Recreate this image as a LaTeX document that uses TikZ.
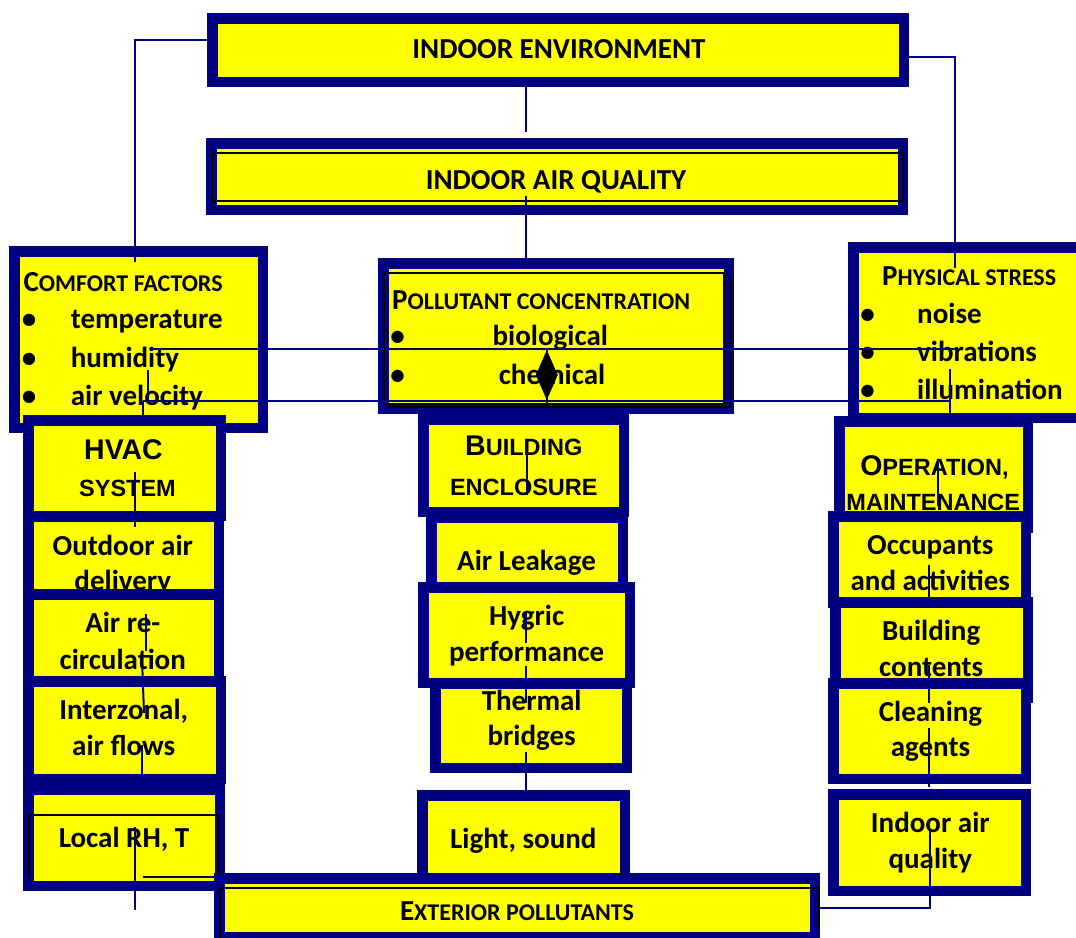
\documentclass[tikz,border=0pt]{standalone}
\usepackage{fontspec}
\newfontfamily\calfont{Carlito}
\newfontfamily\arialfont{Liberation Sans}
\usetikzlibrary{shapes.geometric}
\definecolor{boxnavy}{HTML}{000080}
\definecolor{boxyellow}{HTML}{FFFF00}
\newcommand{\lowcaps}[1]{{\fontsize{24}{28}\selectfont #1}}
\newcommand{\alowcaps}[1]{{\fontsize{23.5}{28}\selectfont #1}}

\begin{document}
\begin{tikzpicture}[x=1pt,y=-1pt,
  panel/.style 2 args={draw=boxnavy,line width=10.5pt,fill=boxyellow,inner sep=0pt,minimum width=#1,minimum height=#2},
  txt/.style={font=\calfont\bfseries\fontsize{29}{35}\selectfont,inner sep=0pt,anchor=base},
  atxt/.style={font=\arialfont\bfseries\fontsize{28.5}{34}\selectfont,inner sep=0pt,anchor=base},
  item/.style={txt,anchor=base west},
  link/.style={draw=boxnavy,line width=2pt},
  inset/.style={draw=black,line width=2pt}]
\useasboundingbox (0,0) rectangle (1076,937);

% top boxes
\node[panel={691.5pt}{63.5pt}] (env) at (558,50) {};
\node[txt] (envT) at (559,58.5) {INDOOR ENVIRONMENT};
\node[panel={691.5pt}{66.5pt}] (iaq) at (557,176.5) {};
\draw[inset] (212,153) rectangle (903,201);
\node[txt] (iaqT) at (556,189.4) {INDOOR AIR QUALITY};

% comfort factors
\node[panel={248.5pt}{176.5pt}] (cf) at (138.5,339.5) {};
\node[item] (cfT) at (23.4,291) {C\lowcaps{OMFORT FACTORS}};
\node[txt] (cfB1) at (29,328.8) {\textbullet};
\node[item] (cfI1) at (70.6,328.8) {temperature};
\node[txt] (cfB2) at (29,367.4) {\textbullet};
\node[item] (cfI2) at (70.6,367.4) {humidity};
\node[txt] (cfB3) at (29,405) {\textbullet};
\node[item] (cfI3) at (70.6,405) {air velocity};

% pollutant concentration
\node[panel={345.5pt}{145.5pt}] (pc) at (556,336) {};
\draw[inset] (384,273) rectangle (724,404);
\draw[inset] (387,407) -| (730,276);
\node[item] (pcT) at (392,309) {P\lowcaps{OLLUTANT CONCENTRATION}};
\node[txt] (pcB1) at (397.7,345.7) {\textbullet};
\node[item] (pcI1) at (492.4,345.7) {biological};
\node[txt] (pcB2) at (397.7,384.6) {\textbullet};
\node[item] (pcI2) at (498.6,384.6) {chemical};

% physical stress
\node[panel={231.5pt}{170.5pt}] (ps) at (969,332.5) {};
\node[item] (psT) at (882,285.5) {P\lowcaps{HYSICAL STRESS}};
\node[txt] (psB1) at (867.5,323) {\textbullet};
\node[item] (psI1) at (917,323) {noise};
\node[txt] (psB2) at (867.5,361.4) {\textbullet};
\node[item] (psI2) at (917,361.4) {vibrations};
\node[txt] (psB3) at (867.5,399) {\textbullet};
\node[item] (psI3) at (917,399) {illumination};

% left column
\node[panel={192.5pt}{95.5pt}] (hvac) at (124.5,468) {};
\node[atxt] (hvacT1) at (123.5,459) {HVAC};
\node[atxt] (hvacT2) at (127.5,496) {\alowcaps{SYSTEM}};
\node[panel={190.5pt}{78.5pt}] (oad) at (123.5,555.5) {};
\node[txt] (oadT1) at (122.8,555) {Outdoor air};
\node[txt] (oadT2) at (122.8,590) {delivery};
\node[panel={190.5pt}{87.5pt}] (arc) at (123.5,638) {};
\node[txt] (arcT1) at (122.8,632.7) {Air re-};
\node[txt] (arcT2) at (122.8,669.3) {circulation};
\node[panel={192.5pt}{97.5pt}] (izf) at (124.5,730) {};
\node[txt] (izfT1) at (123.7,719.3) {Interzonal,};
\node[txt] (izfT2) at (123.7,755) {air flows};
\node[panel={191.5pt}{96.5pt}] (lrh) at (124,837.5) {};
\draw[inset] (28.7,877) |- (219,815) -- (219,877);
\node[txt] (lrhT) at (124,847.3) {Local RH, T};

% middle column
\node[panel={200.5pt}{92.5pt}] (be) at (523.5,465.5) {};
\node[atxt] (beT1) at (523.8,455.7) {B\alowcaps{UILDING}};
\node[atxt] (beT2) at (523.8,495) {\alowcaps{ENCLOSURE}};
\node[panel={191.5pt}{70.5pt}] (al) at (527,552.5) {};
\node[txt] (alT) at (526.5,570) {Air Leakage};
\node[panel={191.5pt}{84.5pt}] (tb) at (531,725.5) {};
\node[txt] (tbT1) at (531.7,710) {Thermal};
\node[txt] (tbT2) at (531.7,745) {bridges};
\node[panel={206.5pt}{95.5pt}] (hp) at (526.5,635) {};
\node[txt] (hpT1) at (526.7,625) {Hygric};
\node[txt] (hpT2) at (526.7,661.7) {performance};
\node[panel={202.5pt}{82.5pt}] (ls) at (523.5,836.5) {};
\node[txt] (lsT) at (523.3,848.3) {Light, sound};

% right column
\node[panel={188.5pt}{106.5pt}] (om) at (933.5,474.5) {};
\node[atxt] (omT1) at (934.5,475) {O\alowcaps{PERATION,}};
\node[atxt] (omT2) at (933.3,510) {\alowcaps{MAINTENANCE}};
\node[panel={192.5pt}{86.5pt}] (oa) at (929.5,559.5) {};
\node[txt] (oaT1) at (930.3,554) {Occupants};
\node[txt] (oaT2) at (930.3,590) {and activities};
\node[panel={192.5pt}{95.5pt}] (bc) at (931.5,650) {};
\node[txt] (bcT1) at (931.2,640.7) {Building};
\node[txt] (bcT2) at (931.2,676.7) {contents};
\node[panel={192.5pt}{95.5pt}] (ca) at (929.5,731) {};
\node[txt] (caT1) at (930.5,721.7) {Cleaning};
\node[txt] (caT2) at (930.5,756.7) {agents};
\node[panel={192.5pt}{96.5pt}] (iq) at (929.5,842.5) {};
\node[txt] (iqT1) at (930.3,832.7) {Indoor air};
\node[txt] (iqT2) at (930.3,868.3) {quality};

% exterior
\node[panel={595.5pt}{58.5pt}] (ep) at (517,907.5) {};
\draw[inset] (220,950) |- (819,888) -- (819,929);
\node[txt] (epT) at (517,920) {E\lowcaps{XTERIOR POLLUTANTS}};

% connectors
\coordinate (envIaq) at (526,132);
\draw[link] (env.south -| envIaq) -- (envIaq);
\coordinate (iaqTop) at (526,196);
\draw[link] (iaqTop) -- (iaqTop |- pc.north);
\coordinate (cfTop) at (135,262);
\draw[link] ([yshift=9.7pt]env.west) -| (cfTop);
\coordinate (psTop) at (954.7,267.5);
\draw[link] ([yshift=-7.1pt]env.east) -| (psTop);
\coordinate (cfA) at (149.8,348.8);
\coordinate (psA) at (955.4,348.8);
\draw[link] (cfA) -- (psA);
\coordinate (cfB) at (143,400.8);
\coordinate (psB) at (948.5,400.8);
\draw[link] (cfB) -- (psB);
\coordinate (cfC) at (148,370);
\draw[link] (cfC) -- (cfC |- cfB);
\draw[link] (cfB) -- (cfB |- hvac.north);
\coordinate (psC) at (949.6,369);
\draw[link] (psC) -- (psC |- ps.south);

\coordinate (hvacA) at (135,472);
\coordinate (hvacB) at (135,527);
\draw[link] (hvacA) -- (hvacB);
\coordinate (arcA) at (145.7,614);
\coordinate (arcB) at (145.7,651);
\draw[link] (arcA) -- (arcB);
\coordinate (arcC) at (142.3,667);
\coordinate (arcD) at (144,713);
\draw[link] (arcC) -- (arcD);
\coordinate (izfA) at (142.3,745);
\coordinate (izfB) at (142.3,775);
\draw[link] (izfA) -- (izfB);
\coordinate (lrhA) at (135,827);
\coordinate (lrhB) at (135,910);
\draw[link] (lrhA) -- (lrhB);
\coordinate (lrhC) at (142.7,877.3);
\draw[link] (lrhC) -- (lrhC -| ep.west);

\coordinate (beA) at (526.7,455);
\coordinate (beB) at (526.7,495);
\draw[link] (beA) -- (beB);
\coordinate (hpA) at (526,613);
\coordinate (hpB) at (526,643);
\draw[link] (hpA) -- (hpB);
\coordinate (tbA) at (526,666);
\coordinate (tbB) at (526,703);
\draw[link] (tbA) -- (tbB);
\coordinate (tbC) at (525.7,752);
\draw[link] (tbC) -- (tbC |- ls.north);

\coordinate (omA) at (937.7,460);
\coordinate (omB) at (937.7,506);
\draw[link] (omA) -- (omB);
\coordinate (oaA) at (929.3,565);
\coordinate (oaB) at (929.3,597);
\draw[link] (oaA) -- (oaB);
\coordinate (bcA) at (929.3,665);
\coordinate (bcB) at (929.3,703);
\draw[link] (bcA) -- (bcB);
\coordinate (caA) at (929.3,728);
\coordinate (caB) at (929.3,787);
\draw[link] (caA) -- (caB);
\coordinate (iqA) at (930,830);
\draw[link] (iqA) |- (ep.east);

% diamond
\node[diamond,fill=black,inner sep=0pt,minimum width=22pt,minimum height=50pt] (dm) at (546.8,375) {};
\coordinate (dmB) at (546.8,408);
\draw[line width=1.5pt] (dm.north) -- (dmB);
\end{tikzpicture}
\end{document}
